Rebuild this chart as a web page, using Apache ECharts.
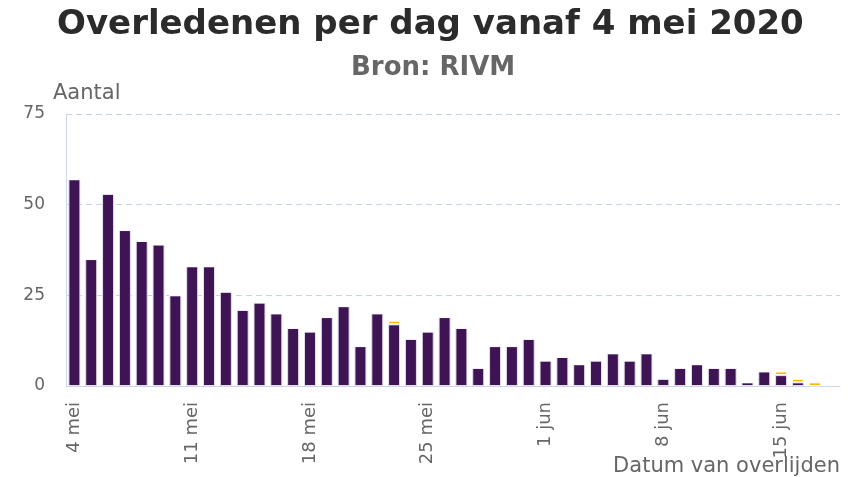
<!DOCTYPE html>
<html>
<head>
<meta charset="utf-8">
<script src="https://cdn.jsdelivr.net/npm/echarts@6/dist/echarts.min.js"></script>
<style>
  html, body { margin: 0; padding: 0; background: #fff; }
  #chart { width: 850px; height: 477px; }
</style>
</head>
<body>
<div id="chart"></div>
<script>
// dagen vanaf 4 mei t/m 18 jun
const dagen = [
  '4 mei', '5 mei', '6 mei', '7 mei', '8 mei', '9 mei', '10 mei',
  '11 mei', '12 mei', '13 mei', '14 mei', '15 mei', '16 mei', '17 mei',
  '18 mei', '19 mei', '20 mei', '21 mei', '22 mei', '23 mei', '24 mei',
  '25 mei', '26 mei', '27 mei', '28 mei', '29 mei', '30 mei', '31 mei',
  '1 jun', '2 jun', '3 jun', '4 jun', '5 jun', '6 jun', '7 jun',
  '8 jun', '9 jun', '10 jun', '11 jun', '12 jun', '13 jun', '14 jun',
  '15 jun', '16 jun', '17 jun', '18 jun'
];

// eerder gemelde overlijdens (paars)
const eerderGemeld = [
  57, 35, 53, 43, 40, 39, 25,
  33, 33, 26, 21, 23, 20, 16,
  15, 19, 22, 11, 20, 17, 13,
  15, 19, 16, 5, 11, 11, 13,
  7, 8, 6, 7, 9, 7, 9,
  2, 5, 6, 5, 5, 1, 4,
  3, 1, 0, null
];

// nieuw gemelde overlijdens (oranje)
const nieuwGemeld = [
  0, 0, 0, 0, 0, 0, 0,
  0, 0, 0, 0, 0, 0, 0,
  0, 0, 0, 0, 0, 1, 0,
  0, 0, 0, 0, 0, 0, 0,
  0, 0, 0, 0, 0, 0, 0,
  0, 0, 0, 0, 0, 0, 0,
  1, 1, 1, null
];

const yTicks = { min: 0, max: 75, interval: 25 };

const axisColor = '#ccd6eb';
const labelColor = '#666666';

let chart = echarts.init(document.getElementById('chart'));
chart.setOption({
  animation: false,
  title: [{
    text: 'Overledenen per dag vanaf 4 mei 2020',
    left: 57,
    top: 8,
    padding: 0,
    textStyle: {
      fontFamily: 'DejaVu Sans',
      fontWeight: 'bold',
      fontSize: 34,
      color: '#2b2b2b'
    }
  }, {
    text: 'Bron: RIVM',
    left: 351,
    top: 55,
    padding: 0,
    textStyle: {
      fontFamily: 'DejaVu Sans',
      fontWeight: 'bold',
      fontSize: 26,
      color: '#666666'
    }
  }, {
    // as-titel onder de x-as, rechts uitgelijnd
    text: 'Datum van overlijden',
    right: 10,
    top: 456,
    padding: 0,
    textStyle: {
      fontFamily: 'DejaVu Sans',
      fontWeight: 'normal',
      fontSize: 21,
      color: labelColor
    }
  }],
  grid: {
    left: 66,
    right: 10,
    top: 114,
    bottom: 91,
    containLabel: false,
    outerBoundsMode: 'none'
  },
  xAxis: {
    type: 'category',
    data: dagen,
    axisLine: { lineStyle: { color: axisColor } },
    axisTick: {
      alignWithLabel: true,
      interval: 6,
      length: 6,
      lineStyle: { color: axisColor }
    },
    axisLabel: {
      interval: 6,
      rotate: 90,
      margin: 16,
      hideOverlap: false,
      fontFamily: 'DejaVu Sans',
      fontSize: 18,
      color: labelColor
    }
  },
  yAxis: {
    type: 'value',
    min: yTicks.min,
    max: yTicks.max,
    interval: yTicks.interval,
    name: 'Aantal',
    nameGap: 10,
    nameTextStyle: {
      fontFamily: 'DejaVu Sans',
      fontSize: 21,
      color: labelColor,
      align: 'left',
      padding: [0, 0, 0, -13]
    },
    axisLine: { show: true, lineStyle: { color: axisColor } },
    axisTick: { show: false },
    axisLabel: {
      margin: 21,
      fontFamily: 'DejaVu Sans',
      fontSize: 17,
      color: labelColor
    },
    splitLine: {
      lineStyle: { color: '#c4d4e6', type: [6, 4] }
    }
  },
  series: [{
    name: 'Eerder gemeld',
    type: 'bar',
    stack: 'totaal',
    barWidth: 12,
    itemStyle: { color: '#3f1454', borderColor: '#e6e0ee', borderWidth: 1 },
    data: eerderGemeld
  }, {
    name: 'Nieuw gemeld',
    type: 'bar',
    stack: 'totaal',
    barWidth: 12,
    itemStyle: { color: '#ffb400', borderColor: '#ffffff', borderWidth: 1 },
    data: nieuwGemeld
  }]
});
</script>
</body>
</html>
